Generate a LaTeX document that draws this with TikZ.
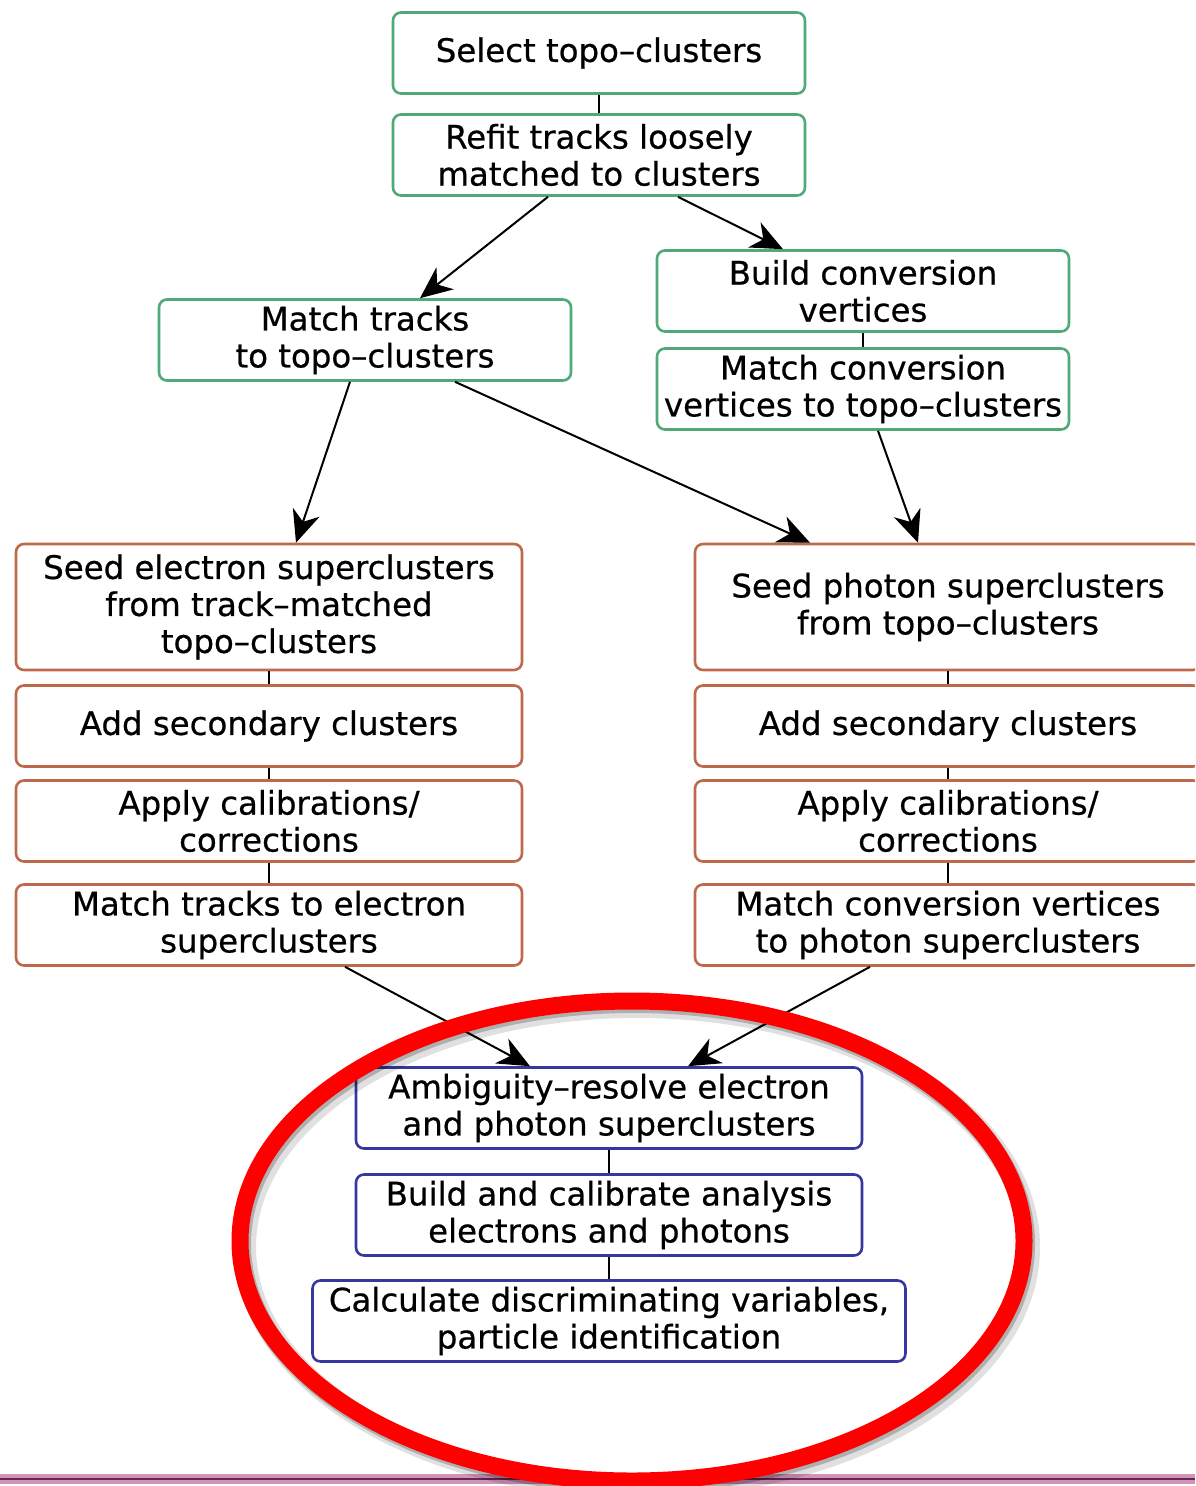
\documentclass[tikz,border=0pt]{standalone}
\usepackage{fontspec}
\setmainfont[FakeBold=0.6]{DejaVu Sans}
\usetikzlibrary{arrows.meta}

\definecolor{boxgreen}{RGB}{80,170,120}
\definecolor{boxbrown}{RGB}{190,105,75}
\definecolor{boxblue}{RGB}{55,55,160}
\definecolor{ringred}{RGB}{255,0,0}
\definecolor{linepink}{RGB}{205,150,185}
\definecolor{lineplum}{RGB}{110,35,80}

\begin{document}
\begin{tikzpicture}[x=0.5pt, y=-0.5pt,
	every node/.style={rectangle, rounded corners=4pt, line width=1.3pt, fill=white, align=center,
		font=\fontsize{16.2}{18.5}\selectfont, minimum height=40.5pt, inner sep=0pt},
	greenbox/.style={draw=boxgreen, minimum width=206pt},
	brownbox/.style={draw=boxbrown, minimum width=253pt},
	bluebox/.style={draw=boxblue, minimum width=253pt},
	link/.style={draw=black, line width=1pt},
	flow/.style={link, -{Stealth[length=16pt, width=14pt, inset=5pt]}}]
			\clip (0,0) rectangle (1195,1486);
			
			% track and conversion preparation
			\node[greenbox] (select) at (599,53){Select topo--clusters};
			\node[greenbox] (refit) at (599,155){Refit tracks loosely\\matched to clusters};
			\node[greenbox] (mtrack) at (365,340){Match tracks\\to topo--clusters};
			\node[greenbox] (build) at (863,291){Build conversion\\vertices};
			\node[greenbox] (mconv) at (863,389){Match conversion\\vertices to topo--clusters};
			
			% electron superclusters
			\node[brownbox, minimum height=63pt] (seedE) at (269,607){Seed electron superclusters\\from track--matched\\topo--clusters};
			\node[brownbox] (addE) at (269,726){Add secondary clusters};
			\node[brownbox] (calE) at (269,821){Apply calibrations/\\corrections};
			\node[brownbox] (matchE) at (269,925){Match tracks to electron\\superclusters};
			
			% photon superclusters
			\node[brownbox, minimum height=63pt] (seedP) at (948,607){Seed photon superclusters\\from topo--clusters};
			\node[brownbox] (addP) at (948,726){Add secondary clusters};
			\node[brownbox] (calP) at (948,821){Apply calibrations/\\corrections};
			\node[brownbox] (matchP) at (948,925){Match conversion vertices\\to photon superclusters};
			
			% final objects
			\node[bluebox] (amb) at (609,1108){Ambiguity--resolve electron\\and photon superclusters};
			\node[bluebox] (calib) at (609,1215){Build and calibrate analysis\\electrons and photons};
			\node[bluebox, minimum width=296.5pt] (ident) at (609,1321){Calculate discriminating variables,\\particle identification};
			
			\path (select) edge[link] (refit);
			\path (build) edge[link] (mconv);
			\path (seedE) edge[link] (addE);
			\path (addE) edge[link] (calE);
			\path (calE) edge[link] (matchE);
			\path (seedP) edge[link] (addP);
			\path (addP) edge[link] (calP);
			\path (calP) edge[link] (matchP);
			\path (amb) edge[link] (calib);
			\path (calib) edge[link] (ident);
			
			\path ([xshift=-25.5pt]refit.south) edge[flow] ([xshift=27.5pt]mtrack.north);
			\path ([xshift=39.5pt]refit.south) edge[flow] ([xshift=-40pt]build.north);
			\path ([xshift=-7.5pt]mtrack.south) edge[flow] ([xshift=13.5pt]seedE.north);
			\path ([xshift=45pt]mtrack.south) edge[flow] ([xshift=-69pt]seedP.north);
			\path ([xshift=7.5pt]mconv.south) edge[flow] ([xshift=-15pt]seedP.north);
			\path ([xshift=38pt]matchE.south) edge[flow] ([xshift=-39.5pt]amb.north);
			\path ([xshift=-39pt]matchP.south) edge[flow] ([xshift=39.5pt]amb.north);
			
			% rule at the foot of the page
			\fill[linepink] (0,1474) rectangle (1195,1484);
			\draw[lineplum, line width=1pt] (0,1479) -- (1195,1479);
			
			% red ring with its shadow
			\draw[black, opacity=0.12, line width=11pt] (637,1247) ellipse [x radius=392, y radius=240];
			\draw[black, opacity=0.22, line width=9pt] (634,1244) ellipse [x radius=392, y radius=240];
			\draw[ringred, line width=8.5pt] (632,1241) ellipse [x radius=392, y radius=240];
			\end{tikzpicture}
\end{document}
